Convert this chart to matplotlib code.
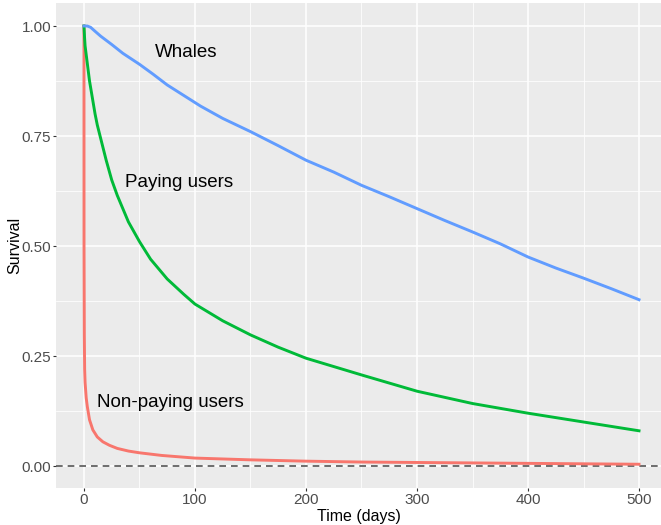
import matplotlib
matplotlib.use("Agg")
import matplotlib.pyplot as plt
from matplotlib.ticker import MultipleLocator

plt.rcParams['font.family'] = ['Liberation Sans', 'DejaVu Sans']

# Data
whale_days = [0, 3, 6, 10, 15, 25, 35, 50, 62, 75, 90, 105, 125, 150, 175, 200, 225, 250, 275, 300, 325, 350, 375, 400, 425, 450, 475, 500]
whale_surv = [1.0, 1.0, 0.997, 0.988, 0.977, 0.958, 0.938, 0.913, 0.891, 0.866, 0.842, 0.818, 0.79, 0.76, 0.728, 0.695, 0.668, 0.638, 0.612, 0.585, 0.558, 0.532, 0.505, 0.475, 0.45, 0.427, 0.403, 0.378]

pay_days = [0, 0.5, 1, 2, 3, 5, 8, 10, 12, 15, 20, 25, 30, 40, 50, 60, 75, 90, 100, 125, 150, 175, 200, 250, 300, 350, 400, 450, 500]
pay_surv = [1.0, 0.975, 0.955, 0.935, 0.915, 0.875, 0.83, 0.80, 0.775, 0.745, 0.695, 0.65, 0.615, 0.555, 0.51, 0.47, 0.425, 0.39, 0.368, 0.33, 0.298, 0.27, 0.245, 0.207, 0.17, 0.142, 0.12, 0.1, 0.08]

non_days = [0, 0.05, 0.3, 0.6, 1, 2, 3, 5, 8, 12, 17, 23, 30, 40, 50, 70, 100, 150, 200, 250, 300, 350, 400, 450, 500]
non_surv = [1.0, 0.5, 0.3, 0.22, 0.19, 0.155, 0.135, 0.105, 0.082, 0.066, 0.055, 0.047, 0.04, 0.034, 0.03, 0.024, 0.018, 0.014, 0.011, 0.009, 0.008, 0.007, 0.006, 0.005, 0.004]

labels = ["Whales", "Paying users", "Non-paying users"]
label_pos = [(92, 0.94), (86, 0.645), (78, 0.145)]
colors = ["#619CFF", "#00BA38", "#F8766D"]

W, H = 661, 525
fig = plt.figure(figsize=(W / 100, H / 100), dpi=100)
ax = fig.add_axes([56 / W, (H - 488) / H, (661 - 56) / W, (488 - 3) / H])
ax.set_facecolor("#EBEBEB")
for s in ax.spines.values():
    s.set_visible(False)

ax.set_xlim(-25.2, 519.8)
ax.set_ylim(-0.05, 1.0523)
ax.xaxis.set_major_locator(MultipleLocator(100))
ax.xaxis.set_minor_locator(MultipleLocator(50))
ax.yaxis.set_major_locator(MultipleLocator(0.25))
ax.yaxis.set_minor_locator(MultipleLocator(0.125))
ax.yaxis.set_major_formatter(plt.FuncFormatter(lambda v, p: f"{v:.2f}"))
ax.grid(which="major", color="white", lw=1.1)
ax.grid(which="minor", color="white", lw=0.55)
ax.set_axisbelow(True)
ax.tick_params(which="major", length=2.5, width=0.8, color="#333333", labelcolor="#4D4D4D", labelsize=11, pad=1)
ax.tick_params(which="minor", length=0)

ax.axhline(0, color="#555555", lw=1.2, ls=(0, (4, 3)), zorder=2)

for d, s, c in [(non_days, non_surv, colors[2]), (pay_days, pay_surv, colors[1]), (whale_days, whale_surv, colors[0])]:
    ax.plot(d, s, color=c, lw=2.1, zorder=3, solid_joinstyle="round")

for lab, (x, y) in zip(labels, label_pos):
    ax.text(x, y, lab, fontsize=13.5, ha="center", va="center", color="black", zorder=4)

ax.set_xlabel("Time (days)", fontsize=11.5)
ax.set_ylabel("Survival", fontsize=11.5)
ax.yaxis.set_label_coords((15 - 56) / 605, 0.5)
ax.xaxis.set_label_coords(0.5, (488 - 516) / 485)
ax.xaxis.label.set_va("center")
ax.yaxis.label.set_va("center")

fig.savefig("out.png", dpi=100)
